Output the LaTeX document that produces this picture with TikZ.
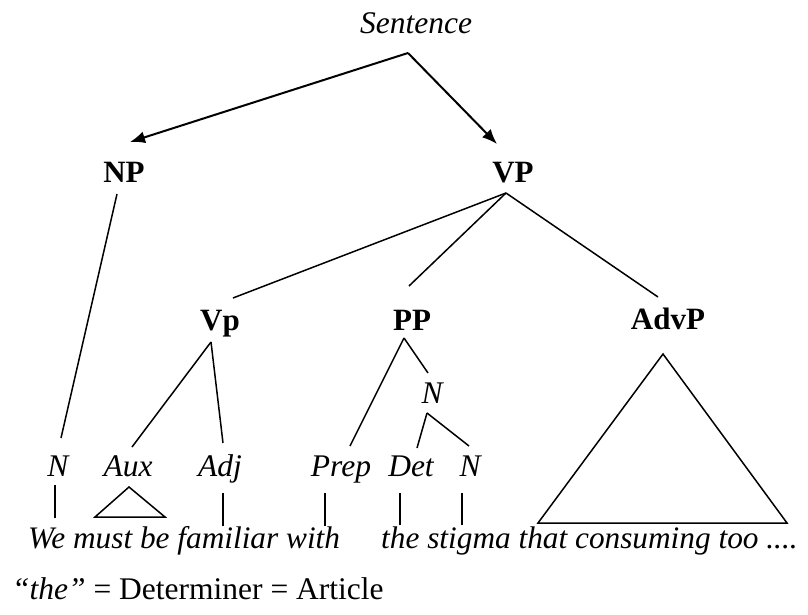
\documentclass[tikz,border=0pt]{standalone}
\usepackage{fontspec}
\setmainfont{Liberation Serif}
\usetikzlibrary{arrows.meta,calc}
\begin{document}
\begin{tikzpicture}[x=1pt,y=1pt,
  lbl/.style={inner sep=0pt, anchor=base, font=\fontsize{31.5}{36}\selectfont\itshape},
  phrase/.style={inner sep=0pt, anchor=base, font=\fontsize{31}{36}\selectfont\bfseries},
  words/.style={inner sep=0pt, anchor=base west, font=\fontsize{31.3}{36}\selectfont\itshape},
  note/.style={inner sep=0pt, anchor=base west, font=\fontsize{31.5}{36}\selectfont},
  branch/.style={line width=1.5pt},
  pointer/.style={line width=2pt, -{Latex[length=15pt,width=12pt]}},
]
\useasboundingbox (0,0) rectangle (808,-615);

% labels of the tree
\node[lbl]    (S)    at (416,-34)  {Sentence};
\node[phrase] (NP)   at (124,-182) {NP};
\node[phrase] (VP)   at (513,-182) {VP};
\node[phrase] (Vp)   at (220,-330) {Vp};
\node[phrase] (PP)   at (412,-330) {PP};
\node[phrase] (AdvP) at (668,-329) {AdvP};
\node[lbl]    (Nm)   at (432,-403) {N};
\node[lbl]    (N1)   at (58,-476)  {N};
\node[lbl]    (Aux)  at (128,-476) {Aux};
\node[lbl]    (Adj)  at (220,-476) {Adj};
\node[lbl]    (Prep) at (341,-476) {Prep};
\node[lbl]    (Det)  at (411,-476) {Det};
\node[lbl]    (N2)   at (470,-476) {N};

% the sentence itself
\node[words] (L1) at (28,-548)  {We must be familiar with};
\node[words] (L2) at (381,-548) {the stigma that consuming too ....};

% footnote
\node[note] (foot) at (12,-599) {\textit{“the”} = Determiner = Article};

% top-level split
\draw[pointer] ($(S.base)+(-8,-19)$) -- ($(NP.base)+(6,40)$);
\draw[pointer] ($(S.base)+(-8,-19)$) -- ($(VP.base)+(-16,38)$);

% VP daughters
\draw[branch] ($(VP.base)+(-7,-11)$) -- ($(Vp.base)+(13,32)$);
\draw[branch] ($(VP.base)+(-7,-11)$) -- ($(PP.base)+(-3,44)$);
\draw[branch] ($(VP.base)+(-7,-11)$) -- ($(AdvP.base)+(-10,32)$);

% NP
\draw[branch] ($(NP.base)+(-7,-12)$) -- ($(N1.base)+(3,38)$);

% Vp
\draw[branch] ($(Vp.base)+(-9,-12)$) -- ($(Aux.base)+(4,29)$);
\draw[branch] ($(Vp.base)+(-9,-12)$) -- ($(Adj.base)+(3,33)$);

% PP
\draw[branch] ($(PP.base)+(-8,-8)$) -- ($(Prep.base)+(9,30)$);
\draw[branch] ($(PP.base)+(-8,-8)$) -- ($(Nm.base)+(-4,30)$);
\draw[branch] ($(Nm.base)+(-5,-10)$) -- ($(Det.base)+(6,28)$);
\draw[branch] ($(Nm.base)+(-5,-10)$) -- ($(N2.base)+(-1,30)$);

% links down to the words
\draw[branch] ($(N1.base)+(-3,-9)$)    -- ($(L1.base west)+(27,30)$);
\draw[branch] ($(Adj.base)+(3,-17)$)   -- ($(L1.base west)+(195,22)$);
\draw[branch] ($(Prep.base)+(-16,-17)$) -- ($(L1.base west)+(297,22)$);
\draw[branch] ($(Det.base)+(-11,-17)$) -- ($(L2.base west)+(19,23)$);
\draw[branch] ($(N2.base)+(-8,-17)$)   -- ($(L2.base west)+(81,23)$);

% collapsed constituents
\draw[branch] ($(Aux.base)+(1,-11)$) -- ($(L1.base west)+(67,31)$)
  -- ($(L1.base west)+(137,31)$) -- cycle;
\draw[branch] ($(AdvP.base)+(-5,-25)$) -- ($(L2.base west)+(157,25)$)
  -- ($(L2.base west)+(406,25)$) -- cycle;
\end{tikzpicture}
\end{document}
